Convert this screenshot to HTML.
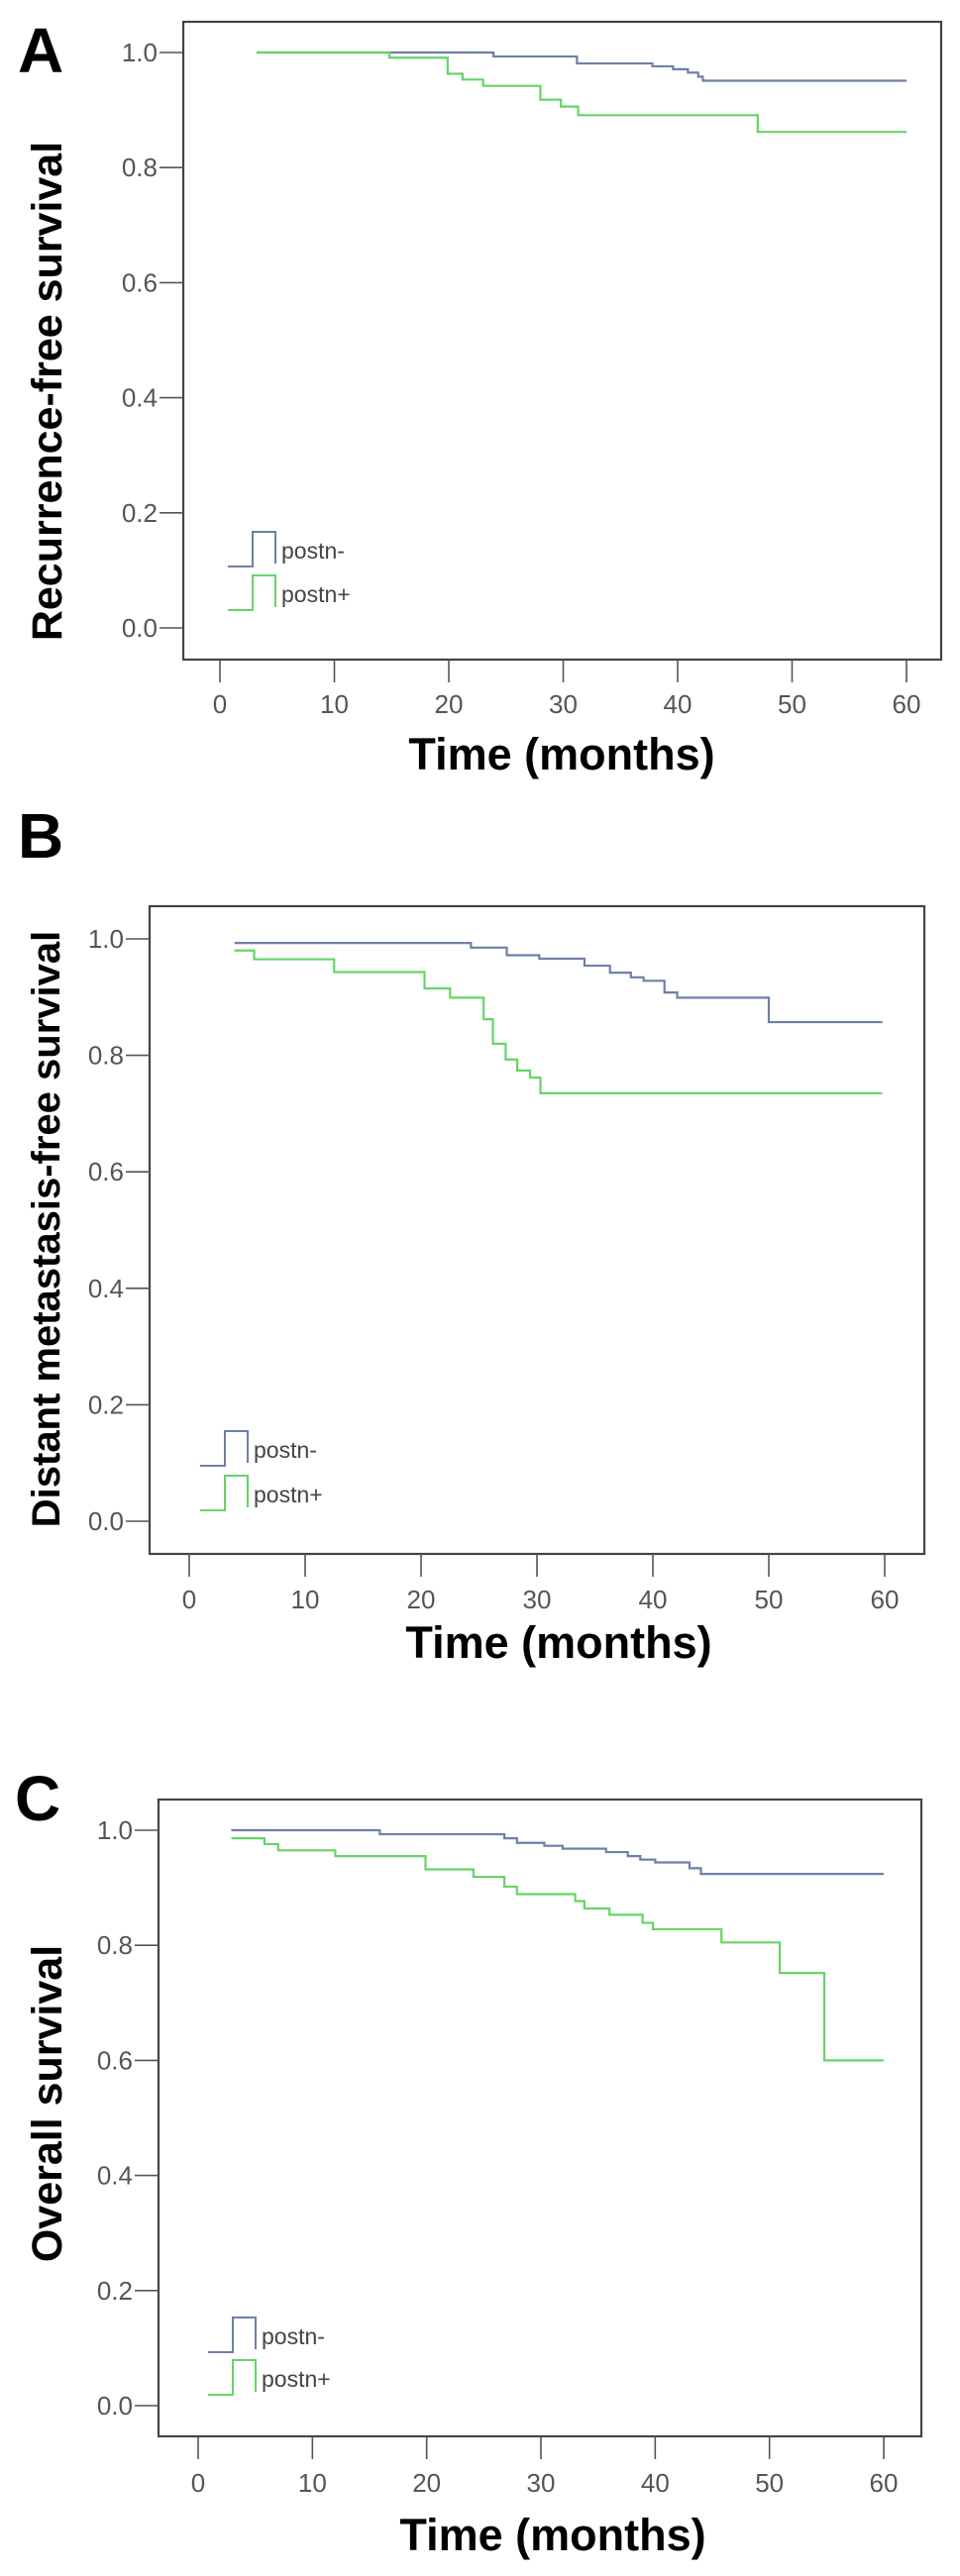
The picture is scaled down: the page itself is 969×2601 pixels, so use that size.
<!DOCTYPE html>
<html><head><meta charset="utf-8">
<style>
html,body{margin:0;padding:0;background:#fff;}
svg{display:block;}
.tick{font-family:"Liberation Sans",sans-serif;font-size:26px;fill:#555;}
.leg{font-family:"Liberation Sans",sans-serif;font-size:23px;fill:#444;}
.ttl{font-family:"Liberation Sans",sans-serif;font-weight:bold;fill:#000;}
</style></head>
<body>
<svg id="fig" width="969" height="2601" viewBox="0 0 969 2601" xmlns="http://www.w3.org/2000/svg"></svg>
<script>
// ---- data ----
const xTicks = [0,10,20,30,40,50,60];
const yTicks = [0,0.2,0.4,0.6,0.8,1.0];
const yTickLabels = ["0.0","0.2","0.4","0.6","0.8","1.0"];
const seriesNames = ["postn-","postn+"];

const aNegTimes = [3.2,23.9,31.2,37.8,39.6,40.9,41.8,42.2,60];
const aNegSurv  = [1.0,0.993,0.981,0.976,0.971,0.965,0.958,0.951];
const aPosTimes = [3.2,14.8,19.9,21.2,23.0,28.0,29.8,31.3,47.0,60];
const aPosSurv  = [1.0,0.991,0.963,0.953,0.942,0.918,0.906,0.891,0.862];

const bNegTimes = [3.9,24.3,27.4,30.2,34.1,36.3,38.1,39.2,41.0,42.1,50.0,59.8];
const bNegSurv  = [0.993,0.985,0.972,0.966,0.954,0.942,0.934,0.928,0.908,0.899,0.857];
const bPosTimes = [3.9,5.6,12.5,20.3,22.5,25.4,26.2,27.3,28.3,29.4,30.3,59.8];
const bPosSurv  = [0.98,0.965,0.943,0.915,0.899,0.862,0.82,0.793,0.774,0.762,0.735];

const cNegTimes = [2.9,15.9,26.8,27.9,30.3,31.9,35.7,37.6,38.7,40.0,43.0,44.0,60];
const cNegSurv  = [1.0,0.993,0.986,0.978,0.973,0.968,0.962,0.955,0.949,0.944,0.934,0.924];
const cPosTimes = [2.9,5.8,7.0,12.0,19.9,24.1,26.8,27.9,33.0,33.8,36.0,38.9,39.8,45.8,50.9,54.8,60];
const cPosSurv  = [0.986,0.976,0.965,0.955,0.932,0.919,0.902,0.889,0.877,0.864,0.853,0.839,0.828,0.805,0.752,0.6];

// ---- layout ----
const NS = "http://www.w3.org/2000/svg";
const svg = document.getElementById('fig');
const NEG = "#6f7fa6", POS = "#66d466";

function mk(tag, attrs, parent){
  const e = document.createElementNS(NS, tag);
  for (const k in attrs) e.setAttribute(k, attrs[k]);
  (parent||svg).appendChild(e);
  return e;
}

function panel(L, negT, negS, posT, posS){
  const g = mk('g', {});
  
  
  const xs = v => L.x0 + (L.x60 - L.x0) * v / 60;
  const ys = v => L.y0 + (L.y1 - L.y0) * v;

  const letter = mk('text', {x:L.letterX, y:L.letterY, class:'ttl', 'font-size':64}, g);
  letter.textContent = L.id.toUpperCase();
  
  

  const fr = mk('rect', {x:L.left, y:L.top, width:L.right-L.left, height:L.bottom-L.top, fill:'none', stroke:'#444', 'stroke-width':2.2}, g);
  
  

  yTicks.forEach((v,i)=>{
    const y = ys(v);
    const t = mk('line', {x1:L.left-24, x2:L.left, y1:y, y2:y, stroke:'#555', 'stroke-width':1.6}, g);
    
    
    const lb = mk('text', {x:L.left-26, y:y+9, class:'tick', 'text-anchor':'end'}, g);
    lb.textContent = yTickLabels[i];
    
    
  });
  xTicks.forEach(v=>{
    const x = xs(v);
    const t = mk('line', {x1:x, x2:x, y1:L.bottom, y2:L.bottom+23, stroke:'#555', 'stroke-width':1.6}, g);
    
    
    const lb = mk('text', {x:x, y:L.xLabY, class:'tick', 'text-anchor':'middle'}, g);
    lb.textContent = String(v);
    
    
  });

  const xt = mk('text', {x:L.xTitleX, y:L.xTitleY, class:'ttl', 'font-size':45, 'text-anchor':'middle'}, g);
  xt.textContent = 'Time (months)';
  
  

  const yt = mk('text', {x:0, y:0, class:'ttl', 'font-size':L.yTitleSize, 'text-anchor':'middle',
     transform:`translate(${L.yTitleX},${L.yTitleY}) rotate(-90)`}, g);
  yt.textContent = L.yTitle;
  
  

  function curve(T, S, color, name){
    let d = `M${xs(T[0])},${ys(S[0])}`;
    for (let i=0;i<S.length;i++){
      d += ` H${xs(T[i+1])}`;
      if (i+1 < S.length) d += ` V${ys(S[i+1])}`;
    }
    const p = mk('path', {d:d, fill:'none', stroke:color, 'stroke-width':2.2}, g);
    
    
  }
  curve(negT, negS, NEG, 'curve-postn-neg');
  curve(posT, posS, POS, 'curve-postn-pos');

  [[NEG, L.legNeg, seriesNames[0]], [POS, L.legPos, seriesNames[1]]].forEach(([c, ly, nm])=>{
    const lg = mk('g', {}, g);
    
    
    const lx = L.legX;
    mk('path', {d:`M${lx},${ly} H${lx+25} V${ly-35} H${lx+48} V${ly-3}`, fill:'none', stroke:c, 'stroke-width':2}, lg);
    const tx = mk('text', {x:lx+54, y:ly-8, class:'leg'}, lg);
    tx.textContent = nm;
  });
}

panel({id:'a', letterX:18, letterY:73, left:185, right:950, top:22, bottom:666,
  x0:222, x60:915, y0:634, y1:53, xLabY:720, xTitleX:567, xTitleY:777,
  yTitle:'Recurrence-free survival', yTitleX:62, yTitleY:395, yTitleSize:43,
  legX:230, legNeg:572, legPos:616}, aNegTimes, aNegSurv, aPosTimes, aPosSurv);

panel({id:'b', letterX:18, letterY:866, left:151, right:933, top:915, bottom:1569,
  x0:191, x60:893, y0:1536, y1:948, xLabY:1624, xTitleX:564, xTitleY:1674,
  yTitle:'Distant metastasis-free survival', yTitleX:60, yTitleY:1241, yTitleSize:40,
  legX:202, legNeg:1480, legPos:1525}, bNegTimes, bNegSurv, bPosTimes, bPosSurv);

panel({id:'c', letterX:15, letterY:1838, left:160, right:930, top:1817, bottom:2460,
  x0:200, x60:892, y0:2429, y1:1848, xLabY:2516, xTitleX:558, xTitleY:2575,
  yTitle:'Overall survival', yTitleX:62, yTitleY:2124, yTitleSize:43,
  legX:210, legNeg:2375, legPos:2418}, cNegTimes, cNegSurv, cPosTimes, cPosSurv);
</script>
</body></html>
